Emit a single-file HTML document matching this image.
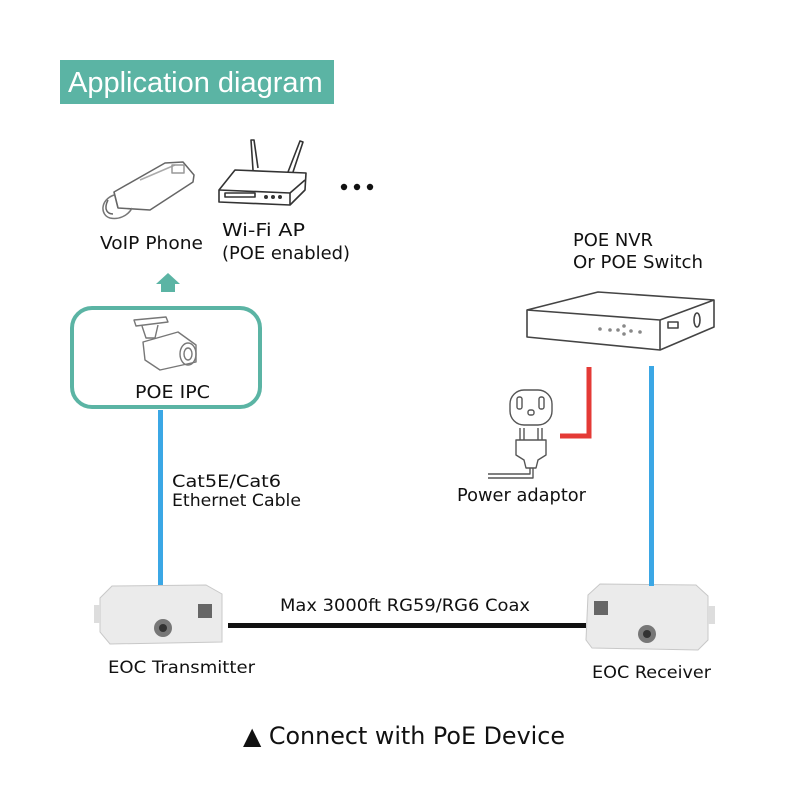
<!DOCTYPE html>
<html><head><meta charset="utf-8"><style>
html,body{margin:0;padding:0;background:#fff;}
svg{display:block;}
text{font-family:"DejaVu Sans","Liberation Sans",sans-serif;fill:#111;}
</style></head><body>
<svg width="800" height="800" viewBox="0 0 800 800" xmlns="http://www.w3.org/2000/svg">
<rect width="800" height="800" fill="#fff"/>
<!-- header -->
<rect x="60" y="60" width="274" height="44" fill="#5bb4a4"/>
<text x="68" y="92" font-size="29" style="fill:#fff;font-family:'Liberation Sans',sans-serif">Application diagram</text>

<!-- phone -->
<g fill="none" stroke="#666" stroke-width="1.5" stroke-linejoin="round">
<path d="M114 192 L165 163 L183 162 L194 175 L193 182 L150 210 L118 208 Z"/>
<path d="M114 192 L118 208"/>
<path d="M140 180 L175 165" stroke="#aaa"/>
<rect x="172" y="165" width="12" height="8" stroke="#999"/>
<path d="M114 195 C100 200,100 215,110 218 C118 220,128 216,132 208" stroke="#777"/>
<path d="M108 200 C103 210,108 214,113 214"/>
</g>
<!-- router -->
<g fill="none" stroke="#333" stroke-width="1.6" stroke-linejoin="round">
<path d="M253 170 L251 140 L254 140 L258 168"/>
<path d="M288 172 L300 141 L303 142 L293 172"/>
<path d="M219 190 L235 170 L306 173 L305 190 L290 205 L219 202 Z"/>
<path d="M219 190 L290 193 L305 180"/>
<path d="M290 193 L290 205"/>
<rect x="225" y="193" width="30" height="4"/>
<circle cx="266" cy="197" r="1.2" fill="#333"/><circle cx="273" cy="197" r="1.2" fill="#333"/><circle cx="280" cy="197" r="1.2" fill="#333"/>
</g>
<g fill="#111"><circle cx="344" cy="187" r="3.2"/><circle cx="357" cy="187" r="3.2"/><circle cx="370" cy="187" r="3.2"/></g>

<text x="100" y="249" font-size="18" textLength="103" lengthAdjust="spacingAndGlyphs">VoIP Phone</text>
<text x="222" y="236" font-size="18" textLength="83" lengthAdjust="spacingAndGlyphs">Wi-Fi AP</text>
<text x="222" y="259" font-size="18" textLength="128" lengthAdjust="spacingAndGlyphs">(POE enabled)</text>

<!-- up arrow -->
<path d="M161 292 L161 284 L156 284 L168 273 L180 284 L175 284 L175 292 Z" fill="#5bb4a4"/>

<!-- POE IPC box -->
<rect x="72" y="308" width="188" height="99" rx="20" fill="none" stroke="#5bb4a4" stroke-width="4"/>
<g fill="none" stroke="#777" stroke-width="1.4" stroke-linejoin="round">
<path d="M134 320 L166 317 L168 322 L136 326 Z"/>
<path d="M142 326 L146 338 L155 338 L158 325"/>
<path d="M143 342 L178 332 L196 345 L196 362 L160 370 L145 360 Z"/>
<ellipse cx="188" cy="354" rx="8" ry="11"/>
<ellipse cx="188" cy="354" rx="4" ry="6"/>
</g>
<text x="135" y="398" font-size="18" textLength="75" lengthAdjust="spacingAndGlyphs">POE IPC</text>

<!-- blue left line -->
<rect x="158" y="410" width="5" height="176" fill="#3ba7e5"/>
<text x="172" y="487" font-size="17" textLength="109" lengthAdjust="spacingAndGlyphs">Cat5E/Cat6</text>
<text x="172" y="506" font-size="17" textLength="129" lengthAdjust="spacingAndGlyphs">Ethernet Cable</text>

<!-- transmitter -->
<path d="M100 598 L112 586 L206 585 L222 594 L222 642 L110 644 L100 632 Z" fill="#ebebeb" stroke="#c8c8c8"/>
<rect x="94" y="605" width="6" height="18" fill="#ddd"/>
<rect x="198" y="604" width="14" height="14" fill="#666"/>
<circle cx="163" cy="628" r="9" fill="#777"/><circle cx="163" cy="628" r="4" fill="#333"/>
<!-- coax -->
<rect x="228" y="623" width="358" height="5" fill="#111"/>
<text x="280" y="611" font-size="17" textLength="250" lengthAdjust="spacingAndGlyphs">Max 3000ft RG59/RG6 Coax</text>
<!-- receiver -->
<path d="M588 595 L600 584 L696 585 L708 596 L708 640 L698 650 L592 648 L586 640 Z" fill="#ebebeb" stroke="#c8c8c8"/>
<rect x="708" y="606" width="7" height="18" fill="#ddd"/>
<rect x="594" y="601" width="14" height="14" fill="#666"/>
<circle cx="647" cy="634" r="9" fill="#777"/><circle cx="647" cy="634" r="4" fill="#333"/>
<text x="108" y="673" font-size="17" textLength="147" lengthAdjust="spacingAndGlyphs">EOC Transmitter</text>
<text x="592" y="678" font-size="17" textLength="119" lengthAdjust="spacingAndGlyphs">EOC Receiver</text>

<!-- NVR -->
<text x="573" y="246" font-size="18" textLength="80" lengthAdjust="spacingAndGlyphs">POE NVR</text>
<text x="573" y="268" font-size="18" textLength="130" lengthAdjust="spacingAndGlyphs">Or POE Switch</text>
<g fill="none" stroke="#444" stroke-width="1.6" stroke-linejoin="round">
<path d="M527 310 L598 292 L714 300 L714 327 L660 350 L527 337 Z" fill="#fff"/>
<path d="M527 310 L660 320 L714 300"/>
<path d="M660 320 L660 350"/>
<ellipse cx="697" cy="320" rx="3" ry="7"/>
<rect x="668" y="322" width="10" height="6"/>
</g>
<g fill="#888"><circle cx="600" cy="329" r="1.8"/><circle cx="610" cy="330" r="1.8"/><circle cx="618" cy="330" r="1.8"/><circle cx="624" cy="326" r="1.8"/><circle cx="624" cy="334" r="1.8"/><circle cx="631" cy="331" r="1.8"/><circle cx="640" cy="332" r="1.8"/></g>

<!-- red line -->
<path d="M589 367 L589 436 L560 436" fill="none" stroke="#e43a36" stroke-width="5"/>
<!-- blue right -->
<rect x="649" y="366" width="5" height="220" fill="#3ba7e5"/>

<!-- outlet & plug -->
<g fill="none" stroke="#555" stroke-width="1.4" stroke-linejoin="round">
<rect x="510" y="390" width="42" height="35" rx="14"/>
<rect x="517" y="397" width="5" height="12" rx="2"/><rect x="539" y="397" width="5" height="12" rx="2"/>
<rect x="528" y="410" width="6" height="5" rx="2"/>
<path d="M520 428 L520 440 M524 428 L524 440 M538 428 L538 440 M542 428 L542 440"/>
<path d="M516 440 L546 440 L546 455 L538 460 L536 468 L526 468 L524 460 L516 455 Z"/>
<path d="M530 468 L530 474 L488 474"/>
<path d="M533 468 L533 478 L488 478"/>
</g>
<text x="457" y="501" font-size="18" textLength="129" lengthAdjust="spacingAndGlyphs">Power adaptor</text>

<!-- bottom -->
<text x="243" y="744" font-size="24" textLength="322" lengthAdjust="spacingAndGlyphs">▲ Connect with PoE Device</text>
</svg>
</body></html>
